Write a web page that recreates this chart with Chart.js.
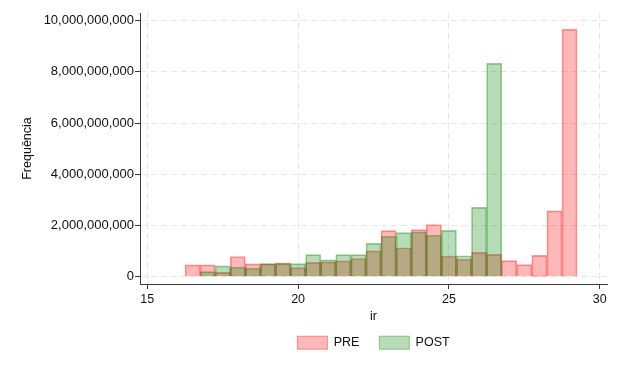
<!DOCTYPE html>
<html>
<head>
<meta charset="utf-8">
<title>ir - PRE / POST</title>
<script src="https://cdn.jsdelivr.net/npm/chart.js@4.4.1/dist/chart.umd.min.js"></script>
<style>
	html, body { margin: 0; padding: 0; background: #ffffff; }
</style>
</head>
<body>
<canvas id="chart-ir-histogram" width="621" height="372"></canvas>
<script>
// Histogram bins (centre of each 0.5-wide bin of ir)
const binCenters = [16.5, 17, 17.5, 18, 18.5, 19, 19.5, 20, 20.5, 21, 21.5, 22, 22.5,
	23, 23.5, 24, 24.5, 25, 25.5, 26, 26.5, 27, 27.5, 28, 28.5, 29];

// Frequencies
const preCounts = [4.6e8, 4.6e8, 1.7e8, 7.9e8, 5.0e8, 5.0e8, 5.4e8, 3.6e8, 5.6e8, 5.8e8, 6.2e8, 7.1e8, 1.01e9,
	1.80e9, 1.13e9, 1.84e9, 2.04e9, 8.1e8, 6.8e8, 9.5e8, 8.7e8, 6.3e8, 4.7e8, 8.3e8, 2.57e9, 9.67e9];
const postCounts = [null, 2.0e8, 4.2e8, 3.7e8, 3.3e8, 5.1e8, 5.1e8, 5.1e8, 8.6e8, 6.6e8, 8.6e8, 8.6e8, 1.30e9,
	1.58e9, 1.72e9, 1.75e9, 1.62e9, 1.81e9, 8.2e8, 2.71e9, 8.33e9, null, null, null, null, null];

const seriesLabels = ["PRE", "POST"];
const xTickValues = [15, 20, 25, 30];
const yTickValues = [0, 2e9, 4e9, 6e9, 8e9, 1e10];
const xTitle = "ir";
const yTitle = "Frequência";

const FONT = "'Liberation Sans', Arial, sans-serif";
const TEXT_COLOR = "#111111";
const AXIS_COLOR = "#3a3a3a";
const GRID_COLOR = "#e6e6e6";

//---------------------------------------------------------
// Helpers
//---------------------------------------------------------
const toPoints = (values) => binCenters
	.map((x, i) => ({ x: x, y: values[i] }))
	.filter((p) => p.y !== null);

const fixedTicks = (values) => (scale) => {
	scale.ticks = values.map((v) => ({ value: v }));
};

//---------------------------------------------------------
// Chart
//---------------------------------------------------------
const CHART_DATA = {
	datasets: [
		{
			label: seriesLabels[0],
			data: toPoints(preCounts),
			backgroundColor: "rgba(255, 0, 0, 0.28)",
			borderColor: "rgba(255, 0, 0, 0.40)",
			borderWidth: 1,
			order: 2,
		},
		{
			label: seriesLabels[1],
			data: toPoints(postCounts),
			backgroundColor: "rgba(0, 128, 0, 0.28)",
			borderColor: "rgba(0, 128, 0, 0.40)",
			borderWidth: 1,
			order: 1,
		},
	],
};

const CHART_CONFIG = {
	type: "bar",
	data: CHART_DATA,
	options: {
		responsive: false,
		animation: false,
		devicePixelRatio: 1,
		grouped: false,
		barPercentage: 1,
		categoryPercentage: 1,
		layout: {
			padding: { left: 0, right: 14, top: 13, bottom: 12.8 },
		},
		scales: {
			x: {
				type: "linear",
				offset: false,
				min: 14.758,
				max: 30.242,
				afterBuildTicks: fixedTicks(xTickValues),
				afterFit: (scale) => { scale.height = 32.2; },
				border: { display: true, color: AXIS_COLOR, width: 1, dash: [6, 4] },
				grid: {
					offset: false,
					color: GRID_COLOR,
					lineWidth: 1,
					drawTicks: true,
					tickLength: 5,
					tickColor: AXIS_COLOR,
					tickWidth: 1,
				},
				ticks: {
					autoSkip: false,
					maxRotation: 0,
					padding: 3,
					color: TEXT_COLOR,
					font: { family: FONT, size: 12.5 },
				},
				title: {
					display: true,
					text: xTitle,
					color: TEXT_COLOR,
					font: { family: FONT, size: 12.5 },
					padding: { top: 0, bottom: -8 },
				},
			},
			y: {
				type: "linear",
				min: -2.85e8,
				max: 1.03e10,
				afterBuildTicks: fixedTicks(yTickValues),
				afterFit: (scale) => { scale.width = 140; },
				border: { display: true, color: AXIS_COLOR, width: 1, dash: [6, 4] },
				grid: {
					color: GRID_COLOR,
					lineWidth: 1,
					drawTicks: true,
					tickLength: 5,
					tickColor: AXIS_COLOR,
					tickWidth: 1,
				},
				ticks: {
					padding: 1,
					color: TEXT_COLOR,
					font: { family: FONT, size: 13 },
					callback: (value) => Number(value).toLocaleString("en-US"),
				},
				title: {
					display: true,
					text: yTitle,
					color: TEXT_COLOR,
					font: { family: FONT, size: 12.5 },
					padding: { top: 20, bottom: 0 },
				},
			},
		},
		plugins: {
			legend: {
				display: true,
				position: "bottom",
				fullSize: false,
				labels: {
					boxWidth: 30,
					boxHeight: 13,
					padding: 20,
					color: TEXT_COLOR,
					font: { family: FONT, size: 12.5 },
					// keep PRE before POST even though POST is drawn on top
					sort: (a, b) => a.datasetIndex - b.datasetIndex,
				},
			},
			tooltip: { enabled: false },
		},
	},
};

new Chart(document.getElementById("chart-ir-histogram"), CHART_CONFIG);
</script>
</body>
</html>
